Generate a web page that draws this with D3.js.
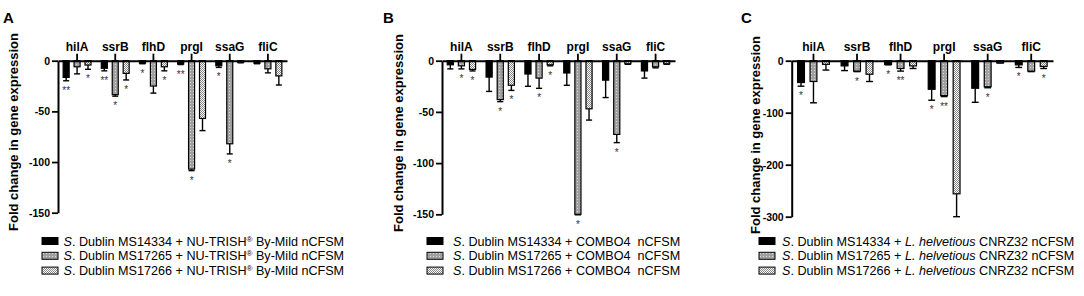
<!DOCTYPE html>
<html>
<head>
<meta charset="utf-8">
<script src="https://cdn.jsdelivr.net/npm/d3@7"></script>
<style>
  body { margin: 0; background: #fff; }
  svg { font-family: "Liberation Sans", Arial, sans-serif; }
</style>
</head>
<body>
<div id="wrapper"></div>
<script>
// DATA
const genes = ['hilA', 'ssrB', 'flhD', 'prgI', 'ssaG', 'fliC']

// panel A (NU-TRISH By-Mild)
const valuesA14334 = [-16.5, -7.5, -2.5, -3.3, -5, -2.5]
const valuesA17265 = [-6, -33.5, -25, -107, -82, -8]
const valuesA17266 = [-4.3, -12.5, -6, -57, -1.6, -15]
const errorsA14334 = [3.3, 2.5, 0.5, 0.5, 1.6, 0.5]
const errorsA17265 = [7, 1.5, 7, 1.5, 10, 4]
const errorsA17266 = [4.2, 6.5, 4, 12, 0.5, 9]
const starsA14334 = ['**', '**', '*', '**', '*', '']
const starsA17265 = ['', '*', '', '*', '*', '']
const starsA17266 = ['*', '*', '*', '', '', '']

// panel B (COMBO4)
const valuesB14334 = [-4, -16, -13, -12, -19, -10]
const valuesB17265 = [-5, -38, -17, -150, -72, -6]
const valuesB17266 = [-8.5, -24, -4, -47, -3, -3]
const errorsB14334 = [4, 14, 12, 12, 17, 7]
const errorsB17265 = [3, 2, 10, 0.5, 8, 1]
const errorsB17266 = [1.5, 5, 1, 11, 0.5, 0.5]
const starsB14334 = ['', '', '', '', '', '']
const starsB17265 = ['*', '*', '*', '*', '*', '']
const starsB17266 = ['*', '*', '*', '', '', '']

// panel C (L. helvetious CNRZ32)
const valuesC14334 = [-42, -10, -7, -55, -53, -8]
const valuesC17265 = [-40, -20, -15, -67, -50, -20]
const valuesC17266 = [-7, -26, -10, -256, -4, -11]
const errorsC14334 = [7, 9, 1, 21, 27, 5]
const errorsC17265 = [41, 1, 5, 2, 2, 1]
const errorsC17266 = [11, 14, 5, 44, 0.5, 4]
const starsC14334 = ['*', '', '*', '*', '', '*']
const starsC17265 = ['', '*', '**', '**', '*', '']
const starsC17266 = ['', '', '', '', '', '*']

const ticksA = [0, -50, -100, -150]
const ticksB = [0, -50, -100, -150]
const ticksC = [0, -100, -200, -300]

const strains = ['MS14334', 'MS17265', 'MS17266']

// LAYOUT
const svg = d3.select('#wrapper')
  .append('svg')
  .attr('width', 1084)
  .attr('height', 296)

const defs = svg.append('defs')

// gray dotted fill
const dots = defs.append('pattern')
  .attr('id', 'dots')
  .attr('patternUnits', 'userSpaceOnUse')
  .attr('width', 3)
  .attr('height', 3)
dots.append('rect').attr('width', 3).attr('height', 3).attr('fill', '#a0a0a0')
dots.append('rect').attr('x', 1).attr('y', 1).attr('width', 1).attr('height', 1).attr('fill', '#dadada')

// checker fill
const checker = defs.append('pattern')
  .attr('id', 'checker')
  .attr('patternUnits', 'userSpaceOnUse')
  .attr('width', 2)
  .attr('height', 2)
checker.append('rect').attr('width', 2).attr('height', 2).attr('fill', '#ffffff')
checker.append('rect').attr('width', 1).attr('height', 1).attr('fill', '#858585')
checker.append('rect').attr('x', 1).attr('y', 1).attr('width', 1).attr('height', 1).attr('fill', '#858585')

const fills = ['#000', 'url(#dots)', 'url(#checker)']

function drawPanel(cfg) {
  const g = svg.append('g')

  const yScale = d3.scaleLinear()
    .domain([cfg.ticks[cfg.ticks.length - 1], 0])
    .range([cfg.bottom, cfg.zero])

  const x0 = d3.scaleBand()
    .domain(genes)
    .range([cfg.left, cfg.right])

  const half = x0.bandwidth() * 0.365
  const x1 = d3.scaleBand()
    .domain([0, 1, 2])
    .range([-half, half])
    .paddingInner(0.45)

  const bw = x1.bandwidth()

  cfg.series.forEach((s, si) => {
    genes.forEach((gene, i) => {
      const cx = x0(gene) + x0.bandwidth() / 2 + x1(si) + bw / 2
      const v = s.values[i]
      const e = s.errors[i]
      const yEnd = yScale(v - e)

      // error bar
      g.append('line')
        .attr('x1', cx).attr('x2', cx)
        .attr('y1', yScale(v)).attr('y2', yEnd)
        .attr('stroke', '#000').attr('stroke-width', 1.4)
      g.append('line')
        .attr('x1', cx - bw / 2).attr('x2', cx + bw / 2)
        .attr('y1', yEnd).attr('y2', yEnd)
        .attr('stroke', '#000').attr('stroke-width', 1.4)

      // bar
      g.append('rect')
        .attr('x', cx - bw / 2)
        .attr('y', yScale(0))
        .attr('width', bw)
        .attr('height', yScale(v) - yScale(0))
        .attr('fill', fills[si])
        .attr('stroke', '#000')
        .attr('stroke-width', 1.2)

      if (s.stars[i]) {
        g.append('text')
          .attr('x', cx)
          .attr('y', yEnd + 13)
          .attr('text-anchor', 'middle')
          .style('font-size', '10px')
          .attr('fill', '#333')
          .text(s.stars[i])
      }
    })
  })

  // y axis
  const yAxisGenerator = d3.axisLeft(yScale)
    .tickValues(cfg.ticks)
    .tickFormat(d => String(d))
    .tickSize(6)
    .tickPadding(2)
    .tickSizeOuter(0)
  const yAxis = g.append('g')
    .attr('transform', `translate(${cfg.left},0)`)
    .call(yAxisGenerator)
  yAxis.selectAll('text').style('font-size', '10.5px').style('font-weight', 'bold').attr('fill', '#000')
  yAxis.selectAll('line').attr('stroke-width', 1.8)
  yAxis.select('.domain').attr('stroke-width', 2)

  // x axis on the zero line, labels on top
  const xAxisGenerator = d3.axisTop(x0)
    .tickSize(7)
    .tickPadding(3)
    .tickSizeOuter(0)
  const xAxis = g.append('g')
    .attr('transform', `translate(0,${yScale(0)})`)
    .call(xAxisGenerator)
  xAxis.selectAll('text').style('font-size', '12px').style('font-weight', 'bold').attr('fill', '#000')
  xAxis.selectAll('line').attr('stroke-width', 1.8)
  xAxis.select('.domain').attr('stroke-width', 2)

  // y title
  g.append('text')
    .attr('transform', `translate(${cfg.titleX},${cfg.titleY}) rotate(-90)`)
    .attr('text-anchor', 'middle')
    .style('font-size', '13px')
    .style('font-weight', 'bold')
    .text('Fold change in gene expression')

  // panel letter
  g.append('text')
    .attr('x', cfg.letterX)
    .attr('y', 23)
    .style('font-size', '15px')
    .style('font-weight', 'bold')
    .text(cfg.letter)

  // legend
  strains.forEach((strain, si) => {
    const ry = 241 + si * 14.8
    g.append('rect')
      .attr('x', cfg.swatchX)
      .attr('y', ry - 3.5)
      .attr('width', 16)
      .attr('height', 7)
      .attr('fill', fills[si])
      .attr('stroke', '#000')
      .attr('stroke-width', 1)
    const t = g.append('text')
      .attr('x', cfg.textX)
      .attr('y', ry + 4.5)
      .style('font-size', '12.6px')
      .style('white-space', 'pre')
    t.append('tspan').style('font-style', 'italic').text('S')
    t.append('tspan').text(`. Dublin ${strain} + `)
    cfg.legendTail(t)
  })
}

drawPanel({
  letter: 'A', letterX: 3,
  left: 58, right: 287, zero: 60.7, bottom: 212.7,
  ticks: ticksA, titleX: 18, titleY: 132,
  swatchX: 42, textX: 63.5,
  series: [
    { values: valuesA14334, errors: errorsA14334, stars: starsA14334 },
    { values: valuesA17265, errors: errorsA17265, stars: starsA17265 },
    { values: valuesA17266, errors: errorsA17266, stars: starsA17266 }
  ],
  legendTail: t => {
    t.append('tspan').text('NU-TRISH')
    t.append('tspan').attr('dy', -4).style('font-size', '8px').text('®')
    t.append('tspan').attr('dy', 4).text(' By-Mild nCFSM')
  }
})

drawPanel({
  letter: 'B', letterX: 383,
  left: 442, right: 675, zero: 60.7, bottom: 214.3,
  ticks: ticksB, titleX: 403, titleY: 133,
  swatchX: 427, textX: 453,
  series: [
    { values: valuesB14334, errors: errorsB14334, stars: starsB14334 },
    { values: valuesB17265, errors: errorsB17265, stars: starsB17265 },
    { values: valuesB17266, errors: errorsB17266, stars: starsB17266 }
  ],
  legendTail: t => {
    t.append('tspan').text('COMBO4\u00a0 nCFSM')
  }
})

drawPanel({
  letter: 'C', letterX: 741,
  left: 791.7, right: 1053, zero: 60.7, bottom: 216.7,
  ticks: ticksC, titleX: 760, titleY: 135,
  swatchX: 759, textX: 782,
  series: [
    { values: valuesC14334, errors: errorsC14334, stars: starsC14334 },
    { values: valuesC17265, errors: errorsC17265, stars: starsC17265 },
    { values: valuesC17266, errors: errorsC17266, stars: starsC17266 }
  ],
  legendTail: t => {
    t.append('tspan').style('font-style', 'italic').text('L. helvetious')
    t.append('tspan').text(' CNRZ32 nCFSM')
  }
})
</script>
</body>
</html>
